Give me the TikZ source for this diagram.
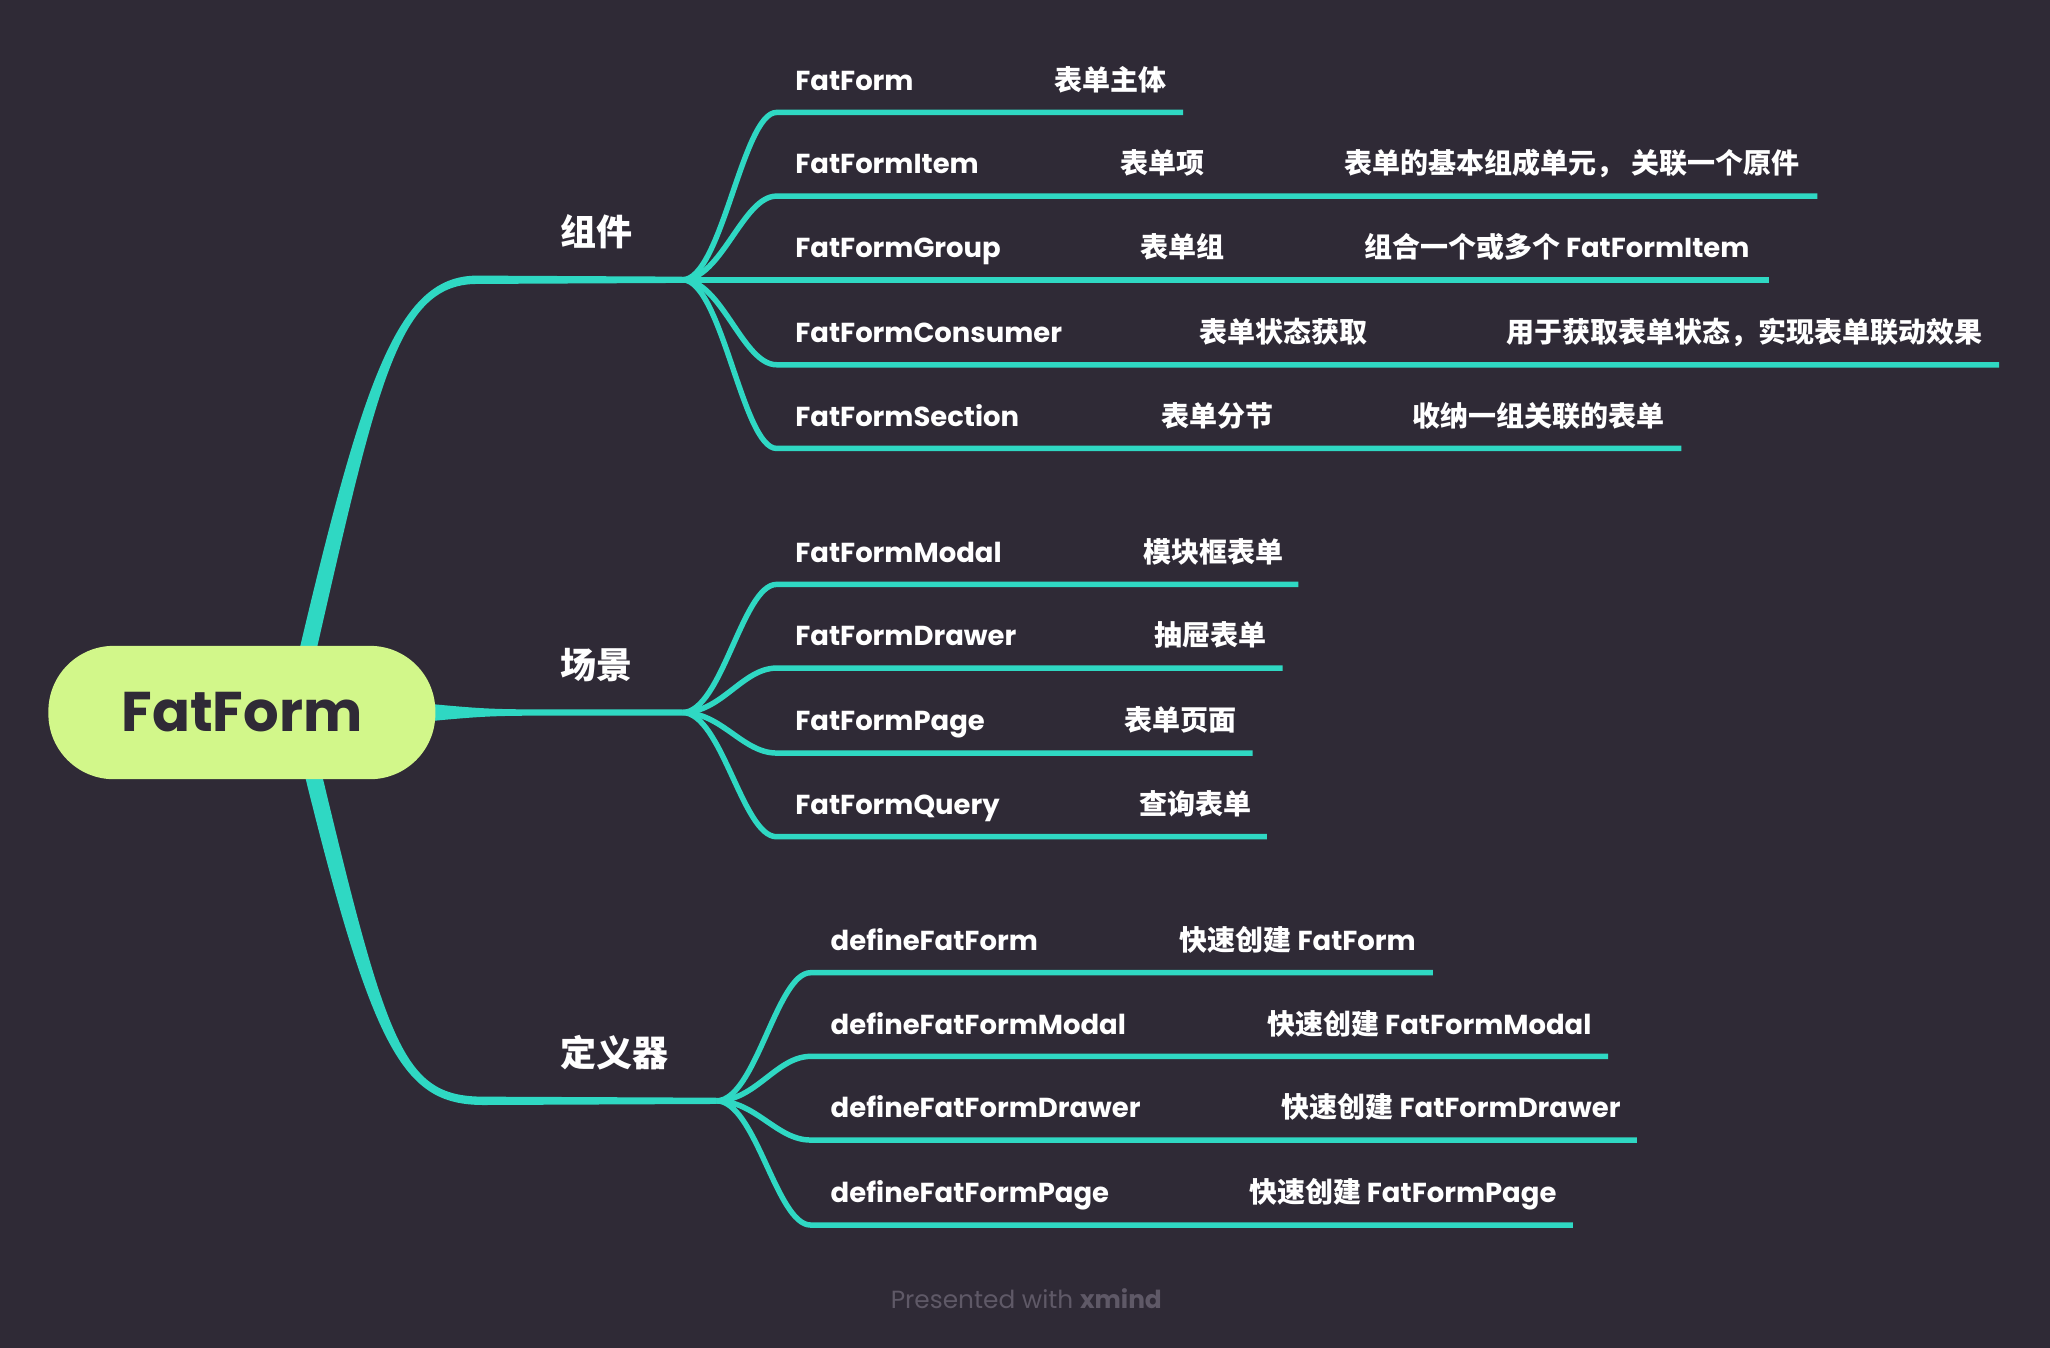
\documentclass[tikz,border=0pt]{standalone}
\usepackage{fontspec}
\setmainfont{Poppins}
\newfontfamily\cjk[Scale=1.02]{Noto Sans CJK SC}
\usetikzlibrary{positioning}
\definecolor{bgdark}{HTML}{2F2A36}
\definecolor{branchteal}{HTML}{2FD8C3}
\definecolor{rootgreen}{HTML}{D2F78A}
\definecolor{roottext}{HTML}{2F2A36}
\definecolor{footgrey}{HTML}{5F5967}
\tikzset{
  kid/.style={draw=branchteal,line width=2.1pt,line join=round},
  lbl/.style={anchor=base west,inner sep=0pt,text=white,font=\bfseries\fontsize{10.5}{12}\selectfont},
  topic/.style={anchor=base west,inner sep=0pt,text=white,font=\cjk\bfseries\fontsize{13.5}{16}\selectfont},
  rootbox/.style={fill=rootgreen,rounded corners=25pt,minimum width=148pt,minimum height=51pt,
    inner sep=0pt,text=roottext,font=\bfseries\fontsize{21.4}{26}\selectfont}
}
\begin{document}
\begin{tikzpicture}[x=0.5pt,y=-0.5pt]
\fill[bgdark] (0,0) rectangle (1568,1031);
\useasboundingbox (0,0) rectangle (1568,1031);

% fan points of the three branches
\coordinate (zjFan) at (522,214);
\coordinate (cjFan) at (522,545);
\coordinate (dyFan) at (548,842);

% main branches
\fill[branchteal] (214.6,558.8) .. controls (274.6,298.8) and (300,210.8) .. (365,210.8)
  -- ([yshift=1.2pt]zjFan) -- ([yshift=-1.2pt]zjFan) -- (365,217.2)
  .. controls (300,217.2) and (287.4,301.2) .. (227.4,561.2) -- cycle;
\fill[branchteal] (330,538.5) .. controls (370,542.3) and (380,542.6) .. (420,542.6)
  -- ([yshift=1.2pt]cjFan) -- ([yshift=-1.2pt]cjFan) -- (420,547.4)
  .. controls (380,547.4) and (370,547.7) .. (330,551.5) -- cycle;
\fill[branchteal] (220.6,541.3) .. controls (282.6,801.3) and (305,845.2) .. (370,845.2)
  -- ([yshift=-1.2pt]dyFan) -- ([yshift=1.2pt]dyFan) -- (370,838.8)
  .. controls (305,838.8) and (295.4,798.7) .. (233.4,538.7) -- cycle;

\node[rootbox] (root) at (185,545) {FatForm};

\node[topic] (zujian) at (428,188) {组件};
\node[topic] (changjing) at (428,519) {场景};
\node[topic] (dingyiqi) at (428,816) {定义器};

% 组件
\coordinate (zj1) at (594,86);  \coordinate (zj1e) at (905,86);
\coordinate (zj2) at (594,150); \coordinate (zj2e) at (1390,150);
\coordinate (zj3) at (594,214); \coordinate (zj3e) at (1353,214);
\coordinate (zj4) at (594,279); \coordinate (zj4e) at (1529,279);
\coordinate (zj5) at (594,343); \coordinate (zj5e) at (1286,343);
\draw[kid] (zjFan) .. controls +(30,0) and +(-26,0) .. (zj1) -- (zj1e);
\draw[kid] (zjFan) .. controls +(30,0) and +(-26,0) .. (zj2) -- (zj2e);
\draw[kid] (zjFan) -- (zj3) -- (zj3e);
\draw[kid] (zjFan) .. controls +(30,0) and +(-26,0) .. (zj4) -- (zj4e);
\draw[kid] (zjFan) .. controls +(30,0) and +(-26,0) .. (zj5) -- (zj5e);
\node[lbl] (zj1a) at (608,69) {FatForm};
\node[lbl] (zj1b) at (806,69) {\cjk 表单主体};
\node[lbl] (zj2a) at (608,133) {FatFormItem};
\node[lbl] (zj2b) at (857,133) {\cjk 表单项};
\node[lbl] (zj2c) at (1028,133) {\cjk 表单的基本组成单元， 关联一个原件};
\node[lbl] (zj3a) at (608,197) {FatFormGroup};
\node[lbl] (zj3b) at (872,197) {\cjk 表单组};
\node[lbl] (zj3c) at (1043,197) {{\cjk 组合一个或多个} FatFormItem};
\node[lbl] (zj4a) at (608,262) {FatFormConsumer};
\node[lbl] (zj4b) at (917,262) {\cjk 表单状态获取};
\node[lbl] (zj4c) at (1152,262) {\cjk 用于获取表单状态，实现表单联动效果};
\node[lbl] (zj5a) at (608,326) {FatFormSection};
\node[lbl] (zj5b) at (888,326) {\cjk 表单分节};
\node[lbl] (zj5c) at (1080,326) {\cjk 收纳一组关联的表单};

% 场景
\coordinate (cj1) at (594,447); \coordinate (cj1e) at (993,447);
\coordinate (cj2) at (594,511); \coordinate (cj2e) at (981,511);
\coordinate (cj3) at (594,576); \coordinate (cj3e) at (958,576);
\coordinate (cj4) at (594,640); \coordinate (cj4e) at (969,640);
\draw[kid] (cjFan) .. controls +(30,0) and +(-26,0) .. (cj1) -- (cj1e);
\draw[kid] (cjFan) .. controls +(30,0) and +(-26,0) .. (cj2) -- (cj2e);
\draw[kid] (cjFan) .. controls +(30,0) and +(-26,0) .. (cj3) -- (cj3e);
\draw[kid] (cjFan) .. controls +(30,0) and +(-26,0) .. (cj4) -- (cj4e);
\node[lbl] (cj1a) at (608,430) {FatFormModal};
\node[lbl] (cj1b) at (874,430) {\cjk 模块框表单};
\node[lbl] (cj2a) at (608,494) {FatFormDrawer};
\node[lbl] (cj2b) at (883,494) {\cjk 抽屉表单};
\node[lbl] (cj3a) at (608,559) {FatFormPage};
\node[lbl] (cj3b) at (860,559) {\cjk 表单页面};
\node[lbl] (cj4a) at (608,623) {FatFormQuery};
\node[lbl] (cj4b) at (871,623) {\cjk 查询表单};

% 定义器
\coordinate (dy1) at (620,744); \coordinate (dy1e) at (1096,744);
\coordinate (dy2) at (620,808); \coordinate (dy2e) at (1230,808);
\coordinate (dy3) at (620,872); \coordinate (dy3e) at (1252,872);
\coordinate (dy4) at (620,937); \coordinate (dy4e) at (1203,937);
\draw[kid] (dyFan) .. controls +(30,0) and +(-26,0) .. (dy1) -- (dy1e);
\draw[kid] (dyFan) .. controls +(30,0) and +(-26,0) .. (dy2) -- (dy2e);
\draw[kid] (dyFan) .. controls +(30,0) and +(-26,0) .. (dy3) -- (dy3e);
\draw[kid] (dyFan) .. controls +(30,0) and +(-26,0) .. (dy4) -- (dy4e);
\node[lbl] (dy1a) at (635,727) {defineFatForm};
\node[lbl] (dy1b) at (902,727) {{\cjk 快速创建} FatForm};
\node[lbl] (dy2a) at (635,791) {defineFatFormModal};
\node[lbl] (dy2b) at (969,791) {{\cjk 快速创建} FatFormModal};
\node[lbl] (dy3a) at (635,855) {defineFatFormDrawer};
\node[lbl] (dy3b) at (980,855) {{\cjk 快速创建} FatFormDrawer};
\node[lbl] (dy4a) at (635,920) {defineFatFormPage};
\node[lbl] (dy4b) at (955,920) {{\cjk 快速创建} FatFormPage};

\node[text=footgrey,font=\fontsize{9.5}{11}\selectfont] (foot) at (785,993) {Presented with \textbf{xmind}};
\end{tikzpicture}
\end{document}
